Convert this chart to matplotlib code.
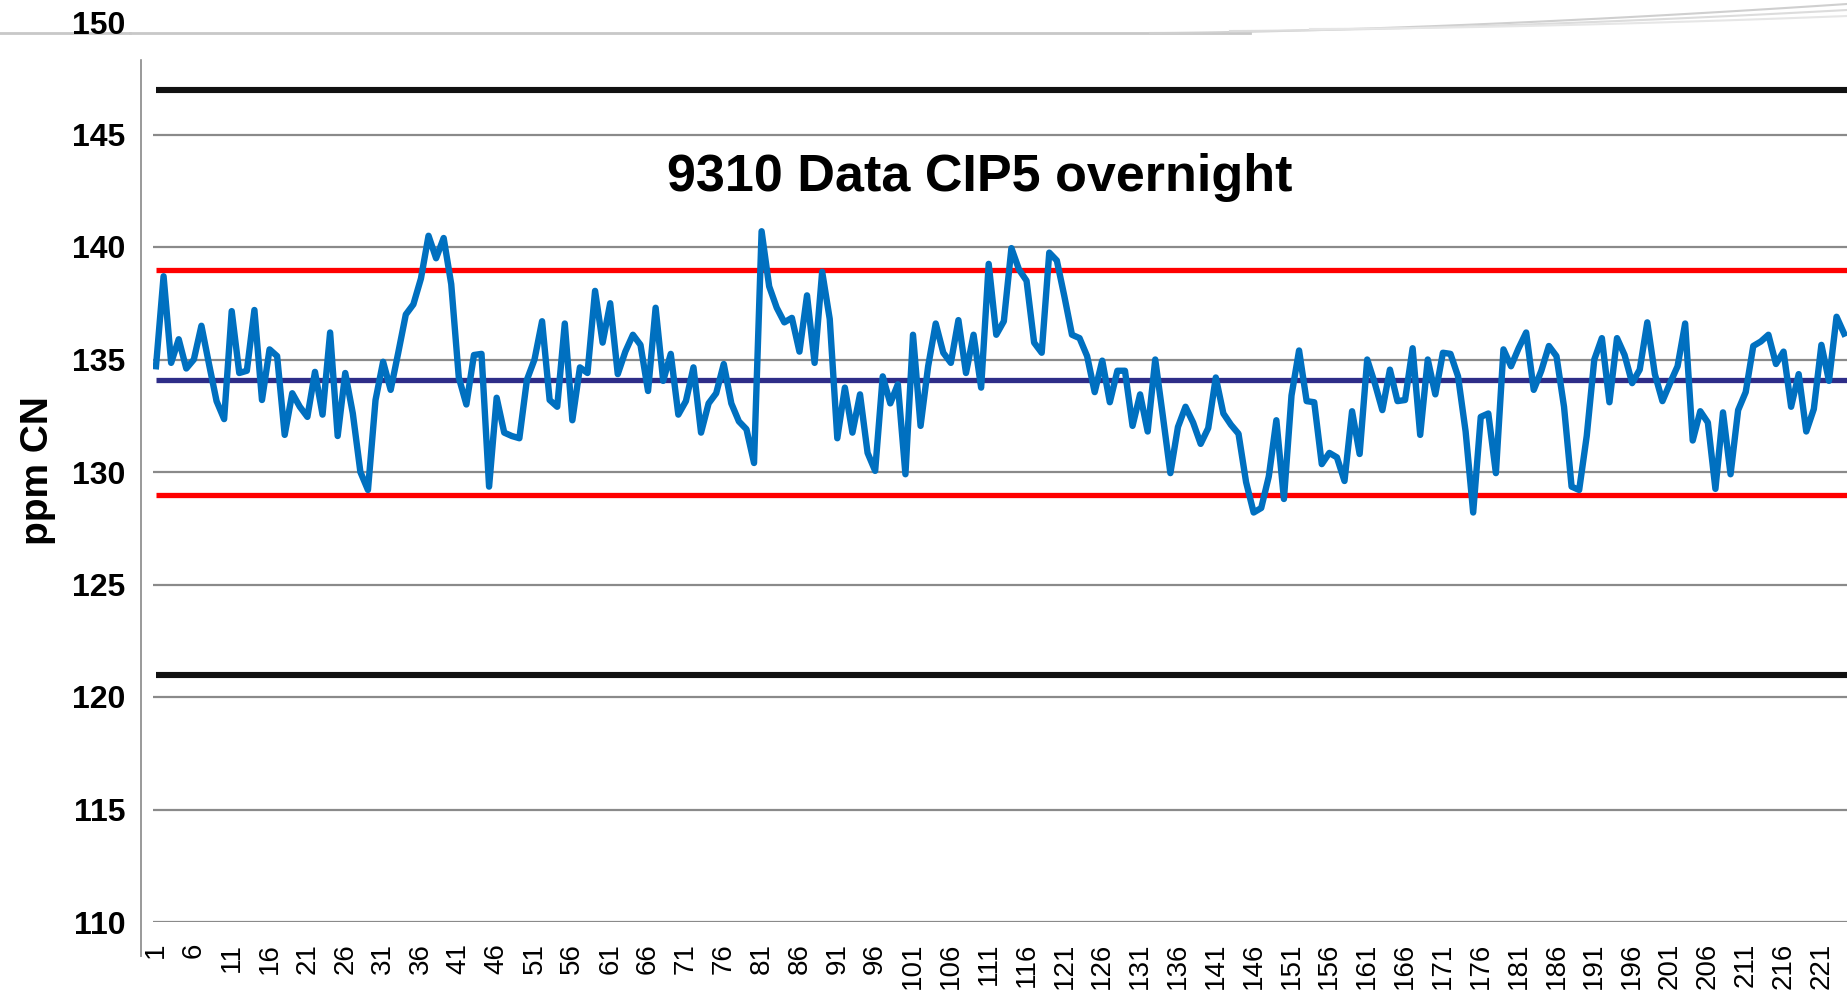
import numpy as np
import matplotlib.pyplot as plt
from matplotlib.lines import Line2D
from matplotlib.patches import Rectangle

plt.rcParams['font.family'] = ['Liberation Sans', 'DejaVu Sans']

# ppm CN readings, sample 1..224
ppm = [134.7, 138.7, 134.85, 135.9, 134.6, 135.0, 136.5, 134.8, 133.15, 132.35,
       137.15, 134.4, 134.5, 137.2, 133.2, 135.45, 135.15, 131.65, 133.5, 132.9,
       132.45, 134.45, 132.55, 136.2, 131.6, 134.4, 132.6, 130.0, 129.2, 133.2,
       134.9, 133.65, 135.3, 137.0, 137.45, 138.6, 140.5, 139.5, 140.4, 138.35,
       134.2, 133.0, 135.2, 135.25, 129.35, 133.3, 131.75, 131.6, 131.5, 134.1,
       135.0, 136.7, 133.2, 132.9, 136.6, 132.3, 134.65, 134.4, 138.05, 135.75,
       137.5, 134.35, 135.35, 136.1, 135.65, 133.6, 137.3, 134.05, 135.25, 132.55,
       133.15, 134.65, 131.75, 133.05, 133.5, 134.8, 133.05, 132.25, 131.9, 130.4,
       140.7, 138.25, 137.3, 136.65, 136.85, 135.35, 137.85, 134.85, 138.9, 136.8,
       131.5, 133.75, 131.75, 133.45, 130.85, 130.05, 134.25, 133.05, 133.9, 129.9,
       136.1, 132.05, 134.7, 136.6, 135.3, 134.85, 136.75, 134.4, 136.1, 133.75,
       139.25, 136.1, 136.7, 139.95, 139.0, 138.5, 135.75, 135.3, 139.75, 139.4,
       137.8, 136.1, 135.95, 135.15, 133.55, 134.95, 133.1, 134.5, 134.5, 132.05,
       133.45, 131.8, 135.0, 132.5, 129.95, 132.0, 132.9, 132.2, 131.25, 131.95,
       134.2, 132.6, 132.1, 131.7, 129.55, 128.2, 128.4, 129.8, 132.3, 128.8,
       133.4, 135.4, 133.15, 133.1, 130.35, 130.85, 130.65, 129.6, 132.7, 130.8,
       135.0, 133.95, 132.75, 134.55, 133.15, 133.2, 135.5, 131.65, 135.0, 133.45,
       135.3, 135.25, 134.25, 131.8, 128.2, 132.45, 132.6, 129.95, 135.45, 134.7,
       135.5, 136.2, 133.65, 134.5, 135.6, 135.15, 132.9, 129.35, 129.2, 131.6,
       135.0, 135.95, 133.1, 135.95, 135.2, 133.95, 134.55, 136.65, 134.35, 133.15,
       133.95, 134.7, 136.6, 131.4, 132.7, 132.2, 129.25, 132.65, 129.9, 132.75,
       133.55, 135.6, 135.8, 136.1, 134.8, 135.35, 132.9, 134.35, 131.8, 132.8,
       135.65, 134.05, 136.9, 136.15]
samples = list(range(1, len(ppm) + 1))

center = 134.1
ctrl_limits = [139, 129]
spec_limits = [147, 121]
y_ticks = list(range(110, 151, 5))
x_ticks = list(range(1, 222, 5))

W, H = 1847, 992
fig = plt.figure(figsize=(W / 100, H / 100), dpi=100)


def fx(px):
    return px / W


def fy(py):
    return 1 - py / H


step = 7.57
ax = fig.add_axes([fx(153), fy(922), fx(1847) - fx(153), fy(22) - fy(922)])
ax.patch.set_visible(False)
ax.set_ylim(110, 150)
for s in ax.spines.values():
    s.set_visible(False)

ax.set_yticks(y_ticks)
ax.set_yticklabels([str(v) for v in y_ticks], fontsize=23, fontweight='bold')
ax.set_xticks(x_ticks)
ax.set_xticklabels([str(v) for v in x_ticks], fontsize=20, rotation=90)
ax.tick_params(axis='y', length=0, pad=20)
ax.tick_params(axis='x', length=0, pad=15)
ax.grid(axis='y', color='#8a8a8a', lw=1.6)
ax.set_axisbelow(True)

xr = 240
ax.hlines(spec_limits, 1, xr, color='#111111', lw=4.4, zorder=3)
ax.hlines(ctrl_limits, 1, xr, color='#ff0000', lw=3.8, zorder=3)
ax.hlines(center, 1, xr, color='#2e2d88', lw=3.8, zorder=3)
ax.plot(samples, ppm, color='#0070c0', lw=4.6, zorder=4)
ax.set_xlim(1 - 3 / step, 1 + (1847 - 156) / step)

# left axis line
fig.add_artist(Line2D([fx(141), fx(141)], [fy(58), fy(956)], color='#999999', lw=1.4))

# slide header covering top of plot
fig.add_artist(Line2D([0, fx(140)], [fy(33), fy(33)], color='#c8c8c8', lw=2, zorder=-1))
fig.add_artist(Rectangle((fx(132), fy(58)), 1, 1, transform=fig.transFigure,
                         color='white', zorder=5))
fig.add_artist(Line2D([fx(130), fx(1250)], [fy(33), fy(33)], color='#c8c8c8', lw=2, zorder=6))
t = np.linspace(0, 1, 50)
for k, c in enumerate(['#cfcfcf', '#dcdcdc', '#e6e6e6']):
    xs = fx(1150 + 80 * k) + (1 - fx(1150 + 80 * k)) * t
    ys = fy(33 - 2 * k) + (fy(4 + 6 * k) - fy(33 - 2 * k)) * t ** 1.6
    fig.add_artist(Line2D(xs, ys, color=c, lw=1.5, zorder=6))

fig.text(fx(980), fy(178), '9310 Data CIP5 overnight', ha='center', va='center',
         fontsize=37.5, fontweight='bold')
fig.text(fx(38), fy(471), 'ppm CN', rotation=90, ha='center', va='center',
         fontsize=28, fontweight='bold')

fig.savefig('out.png', dpi=100)
